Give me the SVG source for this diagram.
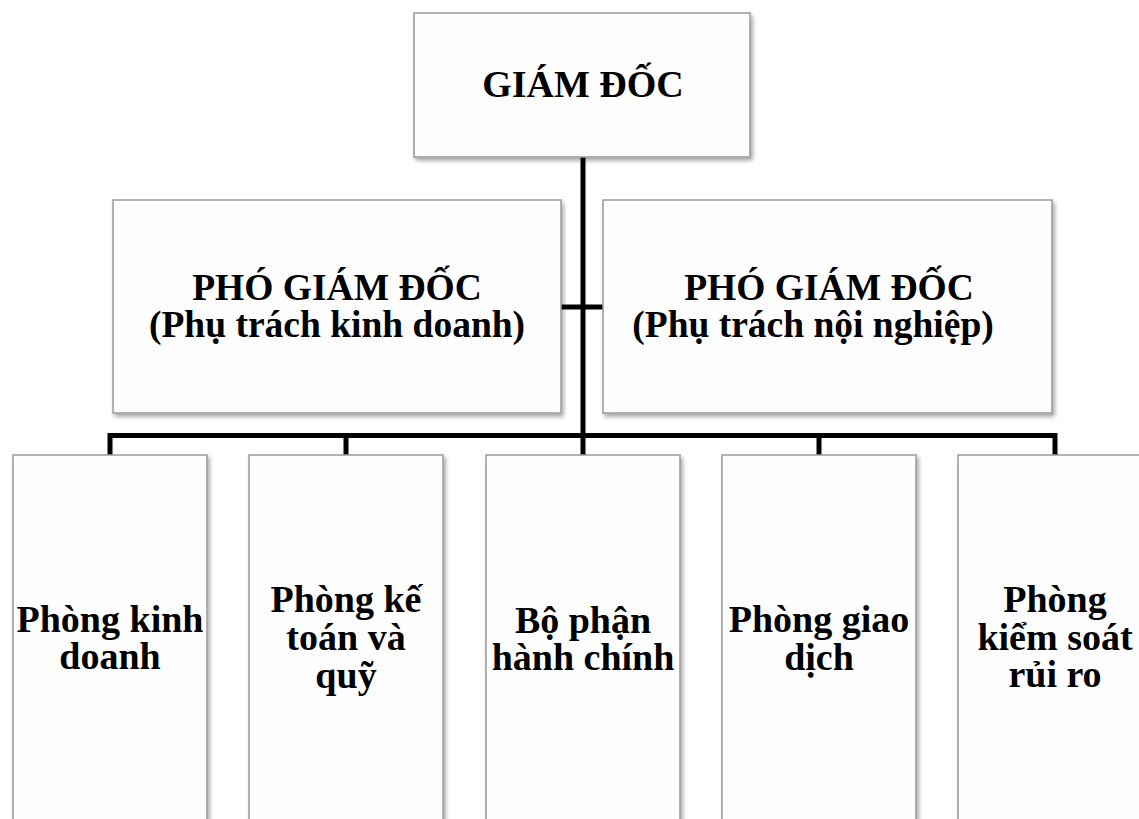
<svg xmlns="http://www.w3.org/2000/svg" width="1139" height="819" viewBox="0 0 1139 819">
<style>
.box{fill:#fefefe;stroke:#9a9a9a;stroke-width:1.5;filter:url(#sh)}
.t{font-family:"Liberation Serif","Times New Roman",serif;font-weight:bold;font-size:38px;fill:#000;text-anchor:middle}
.m{font-size:37.5px}
.c{fill:none;stroke:#000;stroke-width:5;stroke-linejoin:miter;stroke-linecap:butt}
</style>
<defs>
<filter id="sh" x="-10%" y="-10%" width="130%" height="130%">
<feGaussianBlur in="SourceAlpha" stdDeviation="2"/>
<feOffset dx="2" dy="3" result="b"/>
<feComponentTransfer><feFuncA type="linear" slope="0.35"/></feComponentTransfer>
<feMerge><feMergeNode/><feMergeNode in="SourceGraphic"/></feMerge>
</filter>
</defs>
<rect width="1139" height="819" fill="#ffffff"/>
<g id="connectors">
<path class="c" d="M583 157 V455"/>
<path class="c" d="M561 307 H603"/>
<path class="c" d="M110 455 V435.5 H1055 V455"/>
<path class="c" d="M346 435.5 V455"/>
<path class="c" d="M819 435.5 V455"/>
</g>
<g id="giam-doc">
<rect class="box" x="414" y="13" width="336" height="144"/>
<text class="t" x="583" y="97">GIÁM ĐỐC</text>
</g>
<g id="pho-giam-doc-kinh-doanh">
<rect class="box" x="113" y="200" width="448" height="213"/>
<text class="t m" x="337" y="300">PHÓ GIÁM ĐỐC</text>
<text class="t m" x="337" y="337">(Phụ trách kinh doanh)</text>
</g>
<g id="pho-giam-doc-noi-nghiep">
<rect class="box" x="603" y="200" width="449" height="213"/>
<text class="t m" x="829" y="300">PHÓ GIÁM ĐỐC</text>
<text class="t m" x="813" y="337">(Phụ trách nội nghiệp)</text>
</g>
<g id="phong-kinh-doanh">
<rect class="box" x="13" y="455" width="194" height="380"/>
<text class="t" x="110" y="632">Phòng kinh</text>
<text class="t" x="110" y="669">doanh</text>
</g>
<g id="phong-ke-toan">
<rect class="box" x="249" y="455" width="194" height="380"/>
<text class="t" x="346" y="612">Phòng kế</text>
<text class="t" x="346" y="650">toán và</text>
<text class="t" x="346" y="688">quỹ</text>
</g>
<g id="bo-phan-hanh-chinh">
<rect class="box" x="486" y="455" width="194" height="380"/>
<text class="t" x="583" y="633">Bộ phận</text>
<text class="t" x="583" y="670">hành chính</text>
</g>
<g id="phong-giao-dich">
<rect class="box" x="722" y="455" width="194" height="380"/>
<text class="t" x="819" y="632">Phòng giao</text>
<text class="t" x="819" y="670">dịch</text>
</g>
<g id="phong-kiem-soat">
<rect class="box" x="958" y="455" width="194" height="380"/>
<text class="t" x="1055" y="612">Phòng</text>
<text class="t" x="1055" y="650">kiểm soát</text>
<text class="t" x="1055" y="687">rủi ro</text>
</g>
</svg>
